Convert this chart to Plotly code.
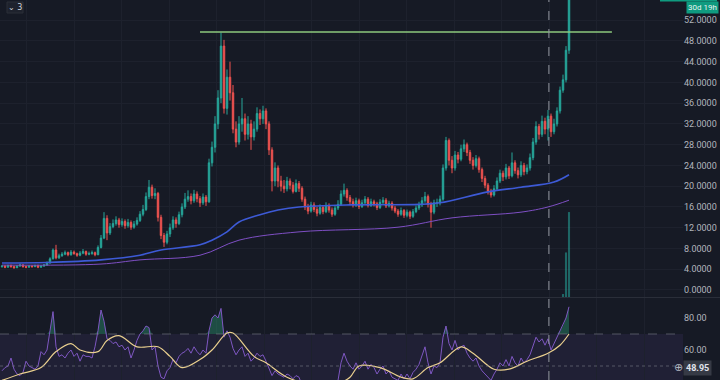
import plotly.graph_objects as go

# ---------------- data ----------------
first_open = 4.5
close = [
    4.6, 4.4, 4.7, 4.5, 4.3, 4.6, 4.8, 4.5, 4.4, 4.6,
    4.5, 4.7, 4.4, 4.6, 4.8, 5.2, 6.0, 7.7, 6.2, 6.6,
    6.9, 7.2, 6.8, 7.3, 7.0, 6.7, 7.1, 7.4, 6.9, 7.0,
    7.2, 6.8, 8.2, 10.0, 13.8, 11.0, 12.2, 12.8, 13.5, 12.6,
    13.2, 12.4, 13.0, 12.1, 12.7, 13.4, 14.6, 15.5, 18.0, 19.8,
    18.2, 18.6, 14.0, 10.5, 9.2, 10.8, 12.0, 13.5, 12.8, 14.5,
    16.0, 17.5, 18.0, 17.2, 18.5, 17.6, 16.8, 17.9, 17.0, 24.5,
    27.5, 32.0, 37.0, 47.0, 35.0, 41.0, 38.0, 31.0, 28.5, 32.0,
    33.0, 30.0, 32.0, 29.5, 31.0, 34.0, 33.0, 34.5, 32.0, 27.0,
    21.0, 23.5, 21.0, 20.0, 19.5, 21.0, 20.2, 19.0, 20.5, 19.6,
    17.5, 16.0, 15.2, 16.4, 15.5, 14.8, 15.9, 15.1, 16.3, 15.4,
    14.6, 15.8, 16.5, 18.5, 19.2, 17.8, 17.0, 16.4, 17.2, 16.1,
    16.8, 17.5, 16.3, 17.0, 16.6, 15.9, 16.9, 17.3, 16.2, 16.7,
    15.8, 15.2, 14.6, 15.3, 14.4, 15.0, 14.2, 15.1, 15.8, 16.4,
    17.2, 18.0, 16.5, 15.0, 16.8, 16.8, 17.5, 23.5, 28.8, 25.0,
    23.5, 26.0, 25.2, 27.2, 28.0, 26.5, 25.0, 24.0, 25.3, 23.2,
    21.5, 20.2, 19.0, 18.3, 19.5, 21.0, 22.5, 21.8, 23.5, 22.0,
    24.5, 23.0, 22.2, 24.0, 22.8, 23.5, 25.5, 28.5, 31.5, 30.0,
    32.5, 31.0, 33.5, 30.5, 32.0, 34.5, 38.5, 40.5, 46.2, 60.0,
]
high = [
    4.8, 4.8, 4.9, 4.9, 4.7, 4.8, 5.1, 5.0, 4.7, 4.8,
    4.8, 4.9, 4.9, 4.8, 5.0, 5.5, 6.3, 8.0, 8.7, 7.0,
    7.3, 7.6, 7.4, 7.7, 7.6, 7.2, 7.5, 7.9, 7.6, 7.4,
    7.6, 7.4, 8.6, 10.6, 15.0, 14.4, 12.9, 13.6, 14.2, 13.9,
    13.8, 13.6, 13.7, 13.4, 13.3, 14.0, 15.2, 16.4, 18.8, 21.2,
    20.3, 19.6, 18.9, 14.5, 11.0, 11.4, 12.8, 14.2, 14.0, 15.1,
    16.7, 18.7, 19.2, 18.6, 19.3, 19.0, 18.1, 18.6, 18.3, 25.3,
    28.6, 33.5, 38.5, 49.6, 48.2, 42.5, 44.0, 39.5, 32.5, 33.5,
    37.0, 34.0, 33.5, 32.8, 32.5, 35.2, 34.8, 35.5, 35.0, 32.5,
    27.5, 24.6, 24.0, 22.0, 21.2, 21.8, 21.5, 20.8, 21.3, 21.0,
    20.0, 18.0, 16.6, 17.0, 16.9, 16.0, 16.5, 16.3, 16.9, 16.7,
    15.9, 16.4, 17.3, 19.2, 20.5, 19.6, 18.3, 17.6, 17.8, 17.6,
    17.4, 18.1, 17.9, 17.6, 17.4, 17.0, 17.5, 17.9, 17.7, 17.2,
    17.1, 16.2, 15.6, 15.9, 15.6, 15.5, 15.3, 15.6, 16.3, 17.0,
    17.9, 18.9, 18.4, 17.0, 17.4, 17.6, 18.2, 24.2, 29.5, 29.2,
    25.8, 26.8, 26.6, 28.0, 29.0, 28.4, 27.0, 25.6, 26.0, 25.7,
    23.6, 22.0, 20.6, 19.5, 20.2, 21.7, 23.2, 23.0, 24.3, 23.9,
    26.5, 25.0, 23.6, 24.8, 24.5, 24.2, 26.3, 29.3, 32.5, 32.0,
    33.6, 33.2, 34.7, 34.0, 33.0, 35.2, 39.2, 41.5, 47.0, 62.0,
]
low = [
    4.3, 4.2, 4.3, 4.3, 4.1, 4.2, 4.5, 4.3, 4.2, 4.3,
    4.3, 4.4, 4.2, 4.3, 4.5, 4.7, 5.1, 5.9, 5.9, 6.0,
    6.4, 6.7, 6.5, 6.6, 6.8, 6.4, 6.5, 6.9, 6.6, 6.7,
    6.8, 6.5, 6.7, 8.0, 9.8, 9.6, 10.6, 11.9, 12.4, 12.0,
    12.2, 11.8, 12.0, 11.6, 11.8, 12.4, 13.1, 14.2, 15.2, 17.5,
    17.6, 17.5, 13.2, 9.8, 8.3, 8.8, 10.2, 11.6, 12.0, 12.5,
    14.0, 15.6, 17.0, 16.5, 16.8, 16.9, 16.0, 16.4, 16.2, 16.8,
    23.8, 26.5, 31.0, 36.0, 34.0, 33.8, 36.5, 30.2, 27.5, 28.0,
    30.5, 28.8, 29.0, 27.0, 28.8, 30.5, 31.8, 32.0, 31.0, 26.0,
    19.0, 20.0, 19.8, 19.0, 18.7, 19.0, 19.4, 18.6, 18.8, 18.9,
    17.0, 15.4, 14.6, 14.9, 15.0, 14.2, 14.5, 14.6, 14.8, 14.9,
    14.1, 14.3, 15.4, 16.2, 18.0, 17.2, 16.4, 15.9, 16.0, 15.6,
    15.8, 16.4, 15.9, 16.0, 16.1, 15.4, 15.6, 16.5, 15.8, 15.9,
    15.3, 14.8, 14.1, 14.3, 13.9, 14.0, 13.7, 13.9, 14.8, 15.4,
    16.0, 16.8, 15.9, 12.0, 14.6, 16.0, 16.3, 17.2, 23.0, 24.0,
    22.5, 23.0, 24.4, 24.8, 26.6, 25.8, 24.3, 23.2, 23.6, 22.6,
    20.8, 19.6, 18.4, 17.8, 18.0, 19.1, 20.6, 21.0, 21.3, 21.4,
    21.7, 22.4, 21.5, 21.8, 22.1, 22.3, 23.0, 25.0, 28.0, 29.0,
    29.5, 30.0, 28.8, 29.5, 30.0, 31.5, 34.0, 38.0, 40.0, 45.5,
]

# moving averages (candle index -> value)
ma_fast_idx = [0, 15, 33, 46, 53, 66, 70, 75, 79, 86, 92, 99, 116, 139, 146, 162, 173, 184, 189]
ma_fast = [5.2, 5.3, 5.8, 6.7, 7.7, 8.7, 9.6, 11.2, 13.1, 14.5, 15.4, 16.0, 16.4, 16.5, 16.8, 18.9, 19.8, 20.8, 22.2]
ma_slow_idx = [0, 33, 46, 66, 79, 99, 132, 150, 173, 182, 189]
ma_slow = [4.8, 5.0, 5.8, 6.7, 9.6, 11.2, 12.1, 13.9, 15.0, 16.0, 17.3]

# volume (only the last bars are visible)
vol_idx = [187, 188, 189]
volume = [1.0, 15.0, 28.6]

# RSI and its moving average
rsi = [
    47, 49, 50, 55, 48, 45, 44, 46, 53, 50,
    49, 48, 50, 59, 57, 60, 72, 84, 62, 56,
    57, 55, 58, 60, 56, 58, 53, 57, 56, 56,
    55, 62, 72, 85, 78, 67, 66, 64, 65, 62,
    63, 60, 62, 55, 60, 66, 70, 72, 75, 74,
    60, 62, 50, 43, 42, 47, 49, 54, 52, 56,
    58, 59, 61, 58, 62, 59, 57, 60, 58, 72,
    80, 82, 80, 86, 68, 72, 68, 61, 57, 60,
    62, 56, 58, 53, 55, 58, 56, 57, 53, 48,
    44, 47, 45, 44, 43, 45, 44, 42, 44, 43,
    38, 36, 35, 38, 37, 35, 38, 36, 39, 37,
    35, 39, 41, 52, 58, 53, 50, 48, 52, 48,
    50, 53, 48, 51, 49, 45, 48, 50, 45, 47,
    43, 42, 41, 45, 42, 45, 42, 46, 48, 51,
    56, 62, 52, 45, 50, 49, 52, 68, 75, 64,
    60, 66, 60, 62, 63, 58, 55, 53, 55, 50,
    47, 45, 43, 41, 45, 48, 52, 50, 54, 50,
    56, 52, 50, 55, 52, 54, 57, 63, 68, 65,
    67, 63, 67, 60, 64, 68, 72, 75, 80, 87,
]
rsi_ma_idx = [0, 6, 13, 18, 23, 26, 32, 35, 39, 45, 52, 56, 60, 66, 70, 75, 77, 84, 88, 95,
              105, 112, 116, 119, 126, 133, 137, 142, 146, 153, 157, 164, 169, 175, 182, 186, 189]
rsi_ma = [41, 45, 49, 59, 64, 60, 59, 66, 69, 62, 62, 56, 49, 54, 60, 70.6, 70.6, 56, 52, 43,
          38, 39, 43, 50, 49, 43, 42, 49, 52, 62, 58, 48, 48, 53, 58, 63, 70]

price_ticks = [0, 4, 8, 12, 16, 20, 24, 28, 32, 36, 40, 44, 48, 52]
rsi_ticks = [40, 60, 80]
resistance = 49.7
resistance_span = [66, 203.3]
crosshair_idx = 182.3
crosshair_rsi = "48.95"

# ---------------- styling ----------------
BG = "#161a25"
GRID = "#1d212d"
UP = "#26a69a"
DN = "#ef5350"
TXT = "#b2b5be"
FONT = "Roboto"

N = len(close)
idx = list(range(N))
opens = [first_open] + close[:-1]

fig = go.Figure()

fig.add_trace(go.Candlestick(
    x=idx, open=opens, high=high, low=low, close=close,
    increasing=dict(line=dict(color=UP, width=1), fillcolor=UP),
    decreasing=dict(line=dict(color=DN, width=1), fillcolor=DN),
    whiskerwidth=0, xaxis="x", yaxis="y", showlegend=False, hoverinfo="skip"))

fig.add_trace(go.Bar(x=vol_idx, y=volume, xaxis="x", yaxis="y3",
                     marker=dict(color="rgba(38,166,154,0.55)", line=dict(width=0)),
                     width=0.7, showlegend=False, hoverinfo="skip"))

fig.add_trace(go.Scatter(x=ma_slow_idx, y=ma_slow, mode="lines", xaxis="x", yaxis="y",
                         line=dict(color="#7e4fc4", width=1, shape="spline"),
                         showlegend=False, hoverinfo="skip"))
fig.add_trace(go.Scatter(x=ma_fast_idx, y=ma_fast, mode="lines", xaxis="x", yaxis="y",
                         line=dict(color="#3d5ad6", width=1.6, shape="spline"),
                         showlegend=False, hoverinfo="skip"))

# RSI pane
fig.add_trace(go.Scatter(x=idx, y=[70] * N, mode="lines", xaxis="x2", yaxis="y2",
                         line=dict(width=0, color="rgba(0,0,0,0)"), showlegend=False, hoverinfo="skip"))
fig.add_trace(go.Scatter(x=idx, y=[max(v, 70) for v in rsi], mode="lines", xaxis="x2", yaxis="y2",
                         fill="tonexty", fillcolor="rgba(46,160,120,0.38)",
                         line=dict(width=0, color="rgba(0,0,0,0)"), showlegend=False, hoverinfo="skip"))
fig.add_trace(go.Scatter(x=idx, y=rsi, mode="lines", xaxis="x2", yaxis="y2",
                         line=dict(color="#7e57c2", width=1), showlegend=False, hoverinfo="skip"))
fig.add_trace(go.Scatter(x=rsi_ma_idx, y=rsi_ma, mode="lines", xaxis="x2", yaxis="y2",
                         line=dict(color="#e9cf8e", width=1.2, shape="spline"),
                         showlegend=False, hoverinfo="skip"))

W, H = 720, 380
PLOT_W = 683
main_dom = [1 - 297 / H, 1]
rsi_dom = [0, 1 - 298 / H]
xr = [-0.667, 227.0]

xcommon = dict(range=xr, showgrid=True, gridcolor=GRID, gridwidth=1, zeroline=False,
               showticklabels=False, ticks="", tick0=8.33, dtick=15.83, showline=False, fixedrange=True)

fig.update_layout(
    width=W, height=H,
    margin=dict(l=0, r=W - PLOT_W, t=0, b=0, autoexpand=False),
    paper_bgcolor=BG, plot_bgcolor=BG,
    font=dict(family=FONT, color=TXT, size=9),
    showlegend=False,
    xaxis=dict(anchor="y", rangeslider=dict(visible=False), **xcommon),
    xaxis2=dict(anchor="y2", matches="x", **xcommon),
    yaxis=dict(domain=main_dom, range=[-1.35, 55.88], side="right", tickvals=price_ticks,
               tickformat=".4f", showgrid=True, gridcolor=GRID, zeroline=False, ticks="", ticklen=0,
               ticklabelstandoff=0, tickfont=dict(size=9, color=TXT), fixedrange=True),
    yaxis3=dict(domain=main_dom, range=[0, 100], overlaying="y", visible=False, fixedrange=True),
    yaxis2=dict(domain=rsi_dom, range=[41.25, 92.5], side="right", tickvals=rsi_ticks,
                tickformat=".2f", showgrid=False, zeroline=False, ticks="", ticklen=0,
                ticklabelstandoff=0, tickfont=dict(size=9, color=TXT), fixedrange=True),
)

shapes = []
# RSI background band 70..30
shapes.append(dict(type="rect", xref="x2 domain", yref="y2", x0=0, x1=1, y0=30, y1=70,
                   fillcolor="rgba(126,87,194,0.10)", line=dict(width=0), layer="below"))
shapes.append(dict(type="line", xref="x2 domain", yref="y2", x0=0, x1=1, y0=70, y1=70,
                   line=dict(color="rgba(120,123,134,0.6)", width=1, dash="dash")))
shapes.append(dict(type="line", xref="x2 domain", yref="y2", x0=0, x1=1, y0=50, y1=50,
                   line=dict(color="rgba(120,123,134,0.6)", width=1, dash="dot")))
# resistance line
shapes.append(dict(type="line", xref="x", yref="y", x0=resistance_span[0], x1=resistance_span[1],
                   y0=resistance, y1=resistance, line=dict(color="#8cc97c", width=1.5)))
# crosshair
shapes.append(dict(type="line", xref="x", yref="paper", x0=crosshair_idx, x1=crosshair_idx, y0=0, y1=1,
                   line=dict(color="#9598a1", width=1, dash="dash")))
# pane separator
shapes.append(dict(type="line", xref="paper", yref="paper", x0=0, x1=W / PLOT_W,
                   y0=1 - 297.5 / H, y1=1 - 297.5 / H, line=dict(color="#2a2e39", width=1)))
# top-right price label (cut off)
shapes.append(dict(type="rect", xref="paper", yref="paper", x0=660 / PLOT_W, x1=717 / PLOT_W,
                   y0=1 - 1.5 / H, y1=1 + 10 / H, fillcolor="#0f9b80", line=dict(width=0)))
# top-left pane legend toggle box
shapes.append(dict(type="rect", xref="paper", yref="paper", x0=7 / PLOT_W, x1=23 / PLOT_W,
                   y0=1 - 13 / H, y1=1 - 2 / H, fillcolor="#1e222d",
                   line=dict(color="#2a2e39", width=1)))
fig.update_layout(shapes=shapes)

ann = []
ann.append(dict(xref="paper", yref="paper", x=686 / PLOT_W, y=1 - 1 / H, xanchor="left", yanchor="top",
                text="30d 19h", showarrow=False, bgcolor="#0f9b80", borderpad=1,
                font=dict(size=8, color="#e8f5f1", family=FONT)))
ann.append(dict(xref="paper", yref="paper", x=15 / PLOT_W, y=1 - 7.5 / H, xanchor="center", yanchor="middle",
                text="⌄ 3", showarrow=False,
                font=dict(size=8, color="#d1d4dc", family="DejaVu Sans")))
ann.append(dict(xref="paper", yref="y2", x=683 / PLOT_W, y=48.95, xanchor="left", yanchor="middle",
                text="<b>" + crosshair_rsi + "</b>", showarrow=False, bgcolor="#363a45", borderpad=2,
                font=dict(size=9, color="#e0e3eb", family=FONT)))
ann.append(dict(xref="paper", yref="y2", x=678 / PLOT_W, y=48.95, xanchor="center", yanchor="middle",
                text="⊕", showarrow=False, font=dict(size=11, color=TXT, family="DejaVu Sans")))
fig.update_layout(annotations=ann)

fig.write_html("out.html", config={"displayModeBar": False, "staticPlot": True},
               post_script="document.body.style.margin='0';document.body.style.overflow='hidden';")
